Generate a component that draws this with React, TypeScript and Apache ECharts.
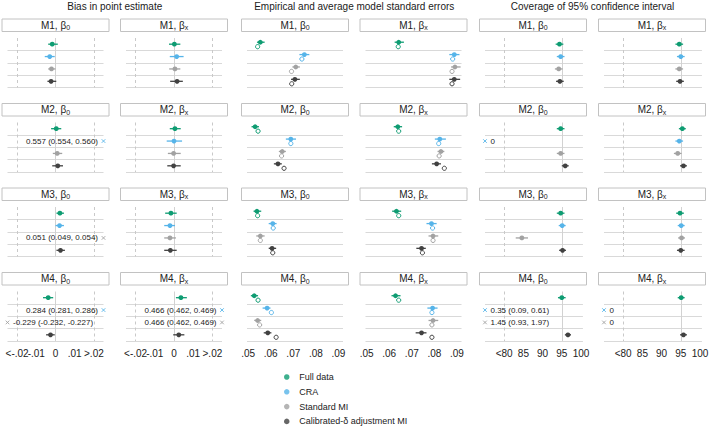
import React, { useEffect, useRef } from 'react';
import * as echarts from 'echarts';

const FONT = '"Liberation Sans", Arial, Helvetica, sans-serif';

const METHODS = ['Full data', 'CRA', 'Standard MI', 'Calibrated-δ adjustment MI'];
const COLORS = ['#0e9c72', '#56b4e9', '#a2a2a2', '#414141'];
const MODELS = ['M1', 'M2', 'M3', 'M4'];
const COLUMN_TITLES = ['Bias in point estimate', 'Empirical and average model standard errors', 'Coverage of 95% confidence interval'];

// Bias: [estimate, lower, upper] per model (rows) per method (cols)
const biasB0 = [
  [[-0.0017, -0.0038, 0.0012], [-0.003, -0.0056, -0.0004], [-0.0021, -0.0038, 0.0], [-0.0023, -0.0042, 0.0004]],
  [[0.0004, -0.0023, 0.003], [0.557, 0.554, 0.56], [0.0009, -0.0014, 0.0035], [0.0012, -0.0017, 0.0039]],
  [[0.0023, 0.0005, 0.0044], [0.0021, 0.0, 0.0044], [0.051, 0.049, 0.054], [0.0026, 0.0005, 0.0049]],
  [[-0.0038, -0.0065, -0.0012], [0.284, 0.281, 0.286], [-0.229, -0.232, -0.227], [-0.0026, -0.0049, -0.0004]],
];
const biasBx = [
  [[0.0002, -0.0026, 0.0033], [0.0014, -0.0022, 0.005], [0.0005, -0.0025, 0.0033], [0.0016, -0.002, 0.0046]],
  [[0.0005, -0.0022, 0.0035], [0.0, -0.0038, 0.0042], [-0.0002, -0.0032, 0.0035], [-0.0002, -0.0035, 0.0035]],
  [[-0.0016, -0.0046, 0.0014], [-0.0021, -0.0051, 0.0005], [-0.0021, -0.0051, 0.001], [-0.0019, -0.0051, 0.0014]],
  [[0.0036, 0.001, 0.0067], [0.466, 0.462, 0.469], [0.466, 0.462, 0.469], [0.0025, -0.0004, 0.0054]],
];
// SE: [empirical SE, lower, upper, average model SE]
const seB0 = [
  [[0.0554, 0.0539, 0.0573, 0.0542], [0.0749, 0.0727, 0.0771, 0.0738], [0.0711, 0.0696, 0.0729, 0.0692], [0.0707, 0.069, 0.0729, 0.0693]],
  [[0.0531, 0.0515, 0.0548, 0.0544], [0.0689, 0.0667, 0.0712, 0.0689], [0.0651, 0.0636, 0.0667, 0.0648], [0.0632, 0.0614, 0.0649, 0.0659]],
  [[0.0539, 0.0524, 0.0558, 0.0542], [0.0609, 0.0591, 0.0626, 0.0611], [0.0554, 0.0536, 0.0573, 0.0554], [0.0606, 0.0591, 0.0624, 0.0609]],
  [[0.0527, 0.0512, 0.0544, 0.0544], [0.0584, 0.0564, 0.0599, 0.0603], [0.0542, 0.0527, 0.0558, 0.0551], [0.0587, 0.0569, 0.0603, 0.0624]],
];
const seBx = [
  [[0.0642, 0.0624, 0.0665, 0.064], [0.0888, 0.0866, 0.0911, 0.0881], [0.0891, 0.0874, 0.0916, 0.0878], [0.0888, 0.0866, 0.0914, 0.0878]],
  [[0.0638, 0.062, 0.0657, 0.0642], [0.0824, 0.0802, 0.0851, 0.0819], [0.0829, 0.0814, 0.0844, 0.0821], [0.081, 0.0789, 0.0829, 0.0844]],
  [[0.0632, 0.0613, 0.0653, 0.0642], [0.0787, 0.0765, 0.081, 0.0792], [0.0794, 0.0774, 0.0817, 0.0794], [0.0743, 0.072, 0.0762, 0.0747]],
  [[0.0628, 0.061, 0.065, 0.0642], [0.0792, 0.0769, 0.0814, 0.0789], [0.0794, 0.0774, 0.0817, 0.0789], [0.0743, 0.0717, 0.0765, 0.0789]],
];
// Coverage: [estimate, lower, upper]
const covB0 = [
  [[94.4, 93.4, 95.4], [94.7, 93.7, 95.7], [94.2, 93.2, 95.2], [94.5, 93.5, 95.5]],
  [[94.7, 93.7, 95.7], [0, 0, 0], [94.7, 93.7, 95.7], [95.9, 95.0, 96.8]],
  [[94.7, 93.7, 95.7], [95.1, 94.2, 96.0], [84.6, 83.0, 86.2], [95.2, 94.3, 96.1]],
  [[95.0, 94.0, 96.0], [0.35, 0.09, 0.61], [1.45, 0.93, 1.97], [96.6, 95.8, 97.4]],
];
const covBx = [
  [[94.6, 93.6, 95.6], [95.0, 94.0, 96.0], [94.6, 93.6, 95.6], [94.8, 93.8, 95.8]],
  [[95.4, 94.5, 96.3], [94.6, 93.6, 95.6], [94.2, 93.2, 95.2], [95.7, 94.8, 96.6]],
  [[94.8, 93.8, 95.8], [95.1, 94.2, 96.0], [95.2, 94.3, 96.1], [95.0, 94.0, 96.0]],
  [[95.1, 94.2, 96.0], [0, 0, 0], [0, 0, 0], [95.7, 94.8, 96.6]],
];

const biasTicks = [-0.02, -0.01, 0, 0.01, 0.02];
const biasTickLabels = ['<-.02', '-.01', '0', '.01', '>.02'];
const seTicks = [0.05, 0.06, 0.07, 0.08, 0.09];
const seTickLabels = ['.05', '.06', '.07', '.08', '.09'];
const covTicks = [80, 85, 90, 95, 100];
const covTickLabels = ['<80', '85', '90', '95', '100'];

type Kind = 'bias' | 'se' | 'cov';
const KIND_CFG: Record<Kind, any> = {
  bias: { min: -0.025, max: 0.025, ticks: biasTicks, labels: biasTickLabels, lo: -0.02, hi: 0.02, dashed: [-0.02, 0.02], solid: [0], digits: 3 },
  se: { min: 0.0495, max: 0.092, ticks: seTicks, labels: seTickLabels, lo: -Infinity, hi: Infinity, dashed: [], solid: [], digits: 4 },
  cov: { min: 75, max: 100.5, ticks: covTicks, labels: covTickLabels, lo: 80, hi: Infinity, dashed: [80], solid: [95], digits: 2 },
};

const PANELS: { kind: Kind; param: string; data: number[][][] }[] = [
  { kind: 'bias', param: '0', data: biasB0 },
  { kind: 'bias', param: 'x', data: biasBx },
  { kind: 'se', param: '0', data: seB0 },
  { kind: 'se', param: 'x', data: seBx },
  { kind: 'cov', param: '0', data: covB0 },
  { kind: 'cov', param: 'x', data: covBx },
];

const PLOT_LEFT = [7.5, 126, 247, 365.5, 485, 604];
const PLOT_W = 96;
const PLOT_H = 49.5;
const ROW_TOP0 = 38;
const ROW_PITCH = 84.5;
const STRIP_TOP0 = 19;
const STRIP_H = 12.5;
const STRIP_W = 107;

function buildOption() {
  const grids: any[] = [];
  const xAxes: any[] = [];
  const yAxes: any[] = [];
  const series: any[] = [];
  const graphics: any[] = [];

  for (let r = 0; r < MODELS.length; r++) {
    for (let c = 0; c < PANELS.length; c++) {
      const idx = r * PANELS.length + c;
      const panel = PANELS[c];
      const cfg = KIND_CFG[panel.kind];
      const rows = panel.data[r];
      const left = PLOT_LEFT[c];
      const top = ROW_TOP0 + r * ROW_PITCH;
      const width = panel.kind === 'cov' ? PLOT_W * (25.5 / 25) : PLOT_W;
      grids.push({ left, top, width, height: PLOT_H, containLabel: false, outerBoundsMode: 'none' });
      xAxes.push({
        gridIndex: idx,
        type: 'value',
        min: cfg.min,
        max: cfg.max,
        axisLine: { show: false },
        axisTick: { show: false },
        splitLine: { show: false },
        axisLabel: {
          show: r === MODELS.length - 1,
          // first/last entries are blank placeholders at the axis ends
          customValues: [cfg.min, ...cfg.ticks, cfg.max],
          formatter: (val: number) => {
            const i = cfg.ticks.findIndex((t: number) => Math.abs(t - val) < 1e-9);
            return i >= 0 ? cfg.labels[i] : '';
          },
          fontSize: 10,
          fontFamily: FONT,
          color: '#222',
          margin: 7,
          hideOverlap: false,
          showMinLabel: false,
          showMaxLabel: false,
        },
      });
      yAxes.push({ gridIndex: idx, type: 'value', min: 0, max: 4, inverse: true, show: false });

      const fmt = (v: number) => v.toFixed(cfg.digits);
      const mlData: any[] = [1, 2, 3, 4].map((y) => ({ yAxis: y, lineStyle: { color: '#d9d9d9', type: 'solid', width: 1 } }));
      cfg.dashed.forEach((x: number) => mlData.push({ xAxis: x, lineStyle: { color: '#c9c9c9', type: [3, 3], width: 1 } }));
      cfg.solid.forEach((x: number) => mlData.push({ xAxis: x, lineStyle: { color: '#d2d2d2', type: 'solid', width: 1 } }));

      series.push({
        type: 'custom',
        xAxisIndex: idx,
        yAxisIndex: idx,
        z: 3,
        silent: true,
        clip: false,
        data: rows.map((v, j) => [v[0], j + 0.5]),
        renderItem: (params: any, api: any) => {
          const j = params.dataIndex;
          const v = rows[j];
          const color = COLORS[j];
          const yc = j + 0.5;
          const children: any[] = [];
          const est = v[0];
          const lo = v[1];
          const hi = v[2];
          if (panel.kind === 'se') {
            const yF = yc - 0.16;
            const yH = yc + 0.2;
            const a = api.coord([lo, yF]);
            const b = api.coord([hi, yF]);
            const p = api.coord([est, yF]);
            const h = api.coord([v[3], yH]);
            children.push({ type: 'line', shape: { x1: a[0], y1: a[1], x2: b[0], y2: b[1] }, style: { stroke: color, lineWidth: 1.3 } });
            children.push({ type: 'circle', shape: { cx: h[0], cy: h[1], r: 2.1 }, style: { fill: '#fff', stroke: color, lineWidth: 1 } });
            children.push({ type: 'circle', shape: { cx: p[0], cy: p[1], r: 2.4 }, style: { fill: color } });
          } else {
            const out = est < cfg.lo || est > cfg.hi;
            if (!out) {
              const a = api.coord([lo, yc]);
              const b = api.coord([hi, yc]);
              const p = api.coord([est, yc]);
              children.push({ type: 'line', shape: { x1: a[0], y1: a[1], x2: b[0], y2: b[1] }, style: { stroke: color, lineWidth: 1.3 } });
              children.push({ type: 'circle', shape: { cx: p[0], cy: p[1], r: 2.4 }, style: { fill: color } });
            } else {
              const right = est > cfg.hi;
              const p = api.coord([right ? cfg.max : cfg.min, yc]);
              const s = 1.8;
              children.push({ type: 'line', shape: { x1: p[0] - s, y1: p[1] - s, x2: p[0] + s, y2: p[1] + s }, style: { stroke: color, lineWidth: 0.9 } });
              children.push({ type: 'line', shape: { x1: p[0] - s, y1: p[1] + s, x2: p[0] + s, y2: p[1] - s }, style: { stroke: color, lineWidth: 0.9 } });
              const label = lo === hi ? String(est) : `${fmt(est)} (${fmt(lo)}, ${fmt(hi)})`;
              children.push({
                type: 'text',
                x: right ? p[0] - 5.5 : p[0] + 5.5,
                y: p[1],
                style: {
                  text: label,
                  fill: '#222',
                  fontSize: 8,
                  fontFamily: FONT,
                  textAlign: right ? 'right' : 'left',
                  align: right ? 'right' : 'left',
                  textVerticalAlign: 'middle',
                  verticalAlign: 'middle',
                },
              });
            }
          }
          return { type: 'group', children };
        },
        markLine: {
          silent: true,
          symbol: ['none', 'none'],
          label: { show: false },
          z: 1,
          animation: false,
          emphasis: { disabled: true },
          data: mlData,
        },
      });

      // strip
      const cx = left + PLOT_W / 2;
      const sy = STRIP_TOP0 + r * ROW_PITCH;
      graphics.push({
        type: 'rect',
        silent: true,
        shape: { x: cx - STRIP_W / 2, y: sy, width: STRIP_W, height: STRIP_H },
        style: { fill: '#fff', stroke: '#c2c2c2', lineWidth: 1 },
      });
      graphics.push({
        type: 'text',
        silent: true,
        x: cx,
        y: sy + STRIP_H / 2,
        style: {
          text: `{m|${MODELS[r]}, β}{s|${panel.param}}`,
          textAlign: 'center',
          align: 'center',
          textVerticalAlign: 'middle',
          verticalAlign: 'middle',
          rich: {
            m: { fontSize: 10, fontFamily: FONT, fill: '#222', color: '#222', lineHeight: 12 },
            s: { fontSize: 7, fontFamily: FONT, fill: '#222', color: '#222', lineHeight: 7, verticalAlign: 'bottom' },
          },
        },
      });
    }
  }

  // column titles
  for (let k = 0; k < COLUMN_TITLES.length; k++) {
    const x = (PLOT_LEFT[2 * k] + PLOT_LEFT[2 * k + 1] + PLOT_W) / 2;
    graphics.push({
      type: 'text',
      silent: true,
      x,
      y: 6.5,
      style: {
        text: COLUMN_TITLES[k],
        fontSize: 10,
        fontFamily: FONT,
        fill: '#1a1a1a',
        textAlign: 'center',
        align: 'center',
        textVerticalAlign: 'middle',
        verticalAlign: 'middle',
      },
    });
  }

  // legend series (no data)
  METHODS.forEach((m, j) => {
    series.push({ type: 'scatter', name: m, data: [], xAxisIndex: 0, yAxisIndex: 0, itemStyle: { color: COLORS[j] } });
  });

  return {
    animation: false,
    backgroundColor: '#fff',
    textStyle: { fontFamily: FONT },
    grid: grids,
    xAxis: xAxes,
    yAxis: yAxes,
    series,
    graphic: { elements: graphics },
    legend: {
      data: METHODS,
      orient: 'vertical',
      left: 284,
      top: 372,
      padding: 0,
      icon: 'circle',
      itemWidth: 15,
      itemHeight: 5.5,
      itemGap: 4.8,
      selectedMode: false,
      textStyle: { fontSize: 9, fontFamily: FONT, color: '#222', lineHeight: 10 },
    },
  };
}

export default function App() {
  const ref = useRef<HTMLDivElement>(null);
  useEffect(() => {
    if (!ref.current) return;
    const chart = echarts.init(ref.current, null, { renderer: 'svg' });
    chart.setOption(buildOption() as any);
    return () => chart.dispose();
  }, []);
  return (
    <div
      ref={ref}
      style={{ position: 'absolute', left: 0, top: 0, width: 709, height: 430, background: '#fff' }}
    />
  );
}
